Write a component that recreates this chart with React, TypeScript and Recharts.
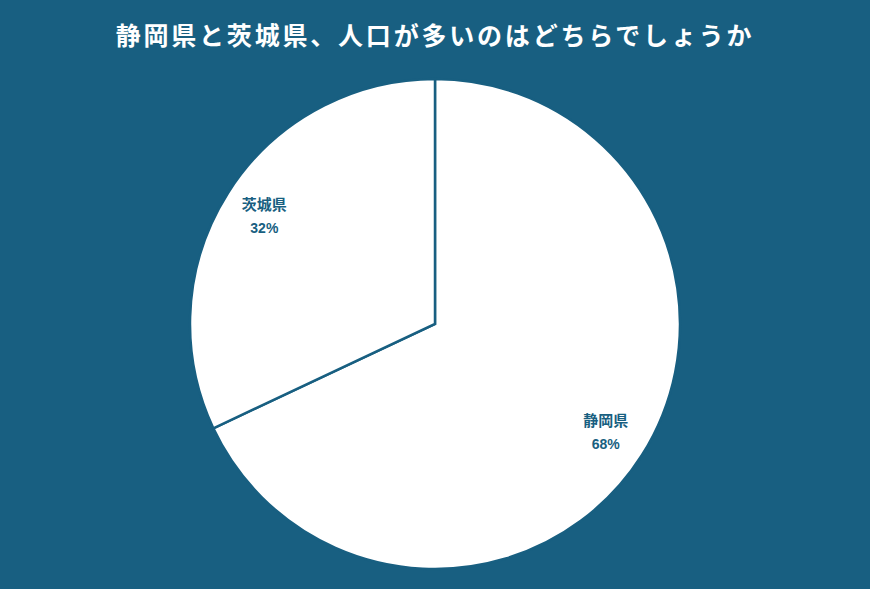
import { Pie, PieChart } from "recharts";

const TITLE = "静岡県と茨城県、人口が多いのはどちらでしょうか";
const names = ["静岡県", "茨城県"];
const shares = [68, 32];

const BG = "#185f81";
const FONT = "'Noto Sans CJK JP', 'Noto Sans', sans-serif";
const LABEL_FONT = "'Liberation Sans', 'Noto Sans CJK JP', sans-serif";
const RADIAN = Math.PI / 180;

interface SliceLabelProps {
  cx?: number;
  cy?: number;
  midAngle?: number;
  outerRadius?: number;
  name?: string;
  value?: number;
}

function SliceLabel({ cx = 0, cy = 0, midAngle = 0, outerRadius = 0, name, value }: SliceLabelProps) {
  const r = outerRadius * 0.825;
  const x = cx + r * Math.cos(-midAngle * RADIAN);
  const y = cy + r * Math.sin(-midAngle * RADIAN);
  return (
    <g>
      <text x={x} y={y - 6} fill={BG} fontSize={15} fontWeight={700} textAnchor="middle" fontFamily={LABEL_FONT}>
        {name}
      </text>
      <text x={x} y={y + 17} fill={BG} fontSize={14} fontWeight={700} textAnchor="middle" fontFamily={LABEL_FONT}>
        {`${value}%`}
      </text>
    </g>
  );
}

const data = names.map((name, i) => ({ name, value: shares[i] }));

export default function App() {
  return (
    <div style={{ position: "absolute", left: 0, top: 0, width: 870, height: 589, background: BG }}>
      <div
        style={{
          position: "absolute",
          top: 17,
          left: 0,
          width: 870,
          textAlign: "center",
          color: "#ffffff",
          fontFamily: FONT,
          fontWeight: 700,
          fontSize: 25,
          letterSpacing: 2.8,
          lineHeight: "34px",
        }}
      >
        {TITLE}
      </div>
      <PieChart width={870} height={589} style={{ position: "absolute", left: 0, top: 0 }}>
        <Pie
          data={data}
          dataKey="value"
          nameKey="name"
          cx={430}
          cy={319}
          outerRadius={245}
          startAngle={90}
          endAngle={-270}
          fill="#ffffff"
          stroke={BG}
          strokeWidth={2.5}
          label={<SliceLabel />}
          labelLine={false}
          isAnimationActive={false}
        />
      </PieChart>
    </div>
  );
}
